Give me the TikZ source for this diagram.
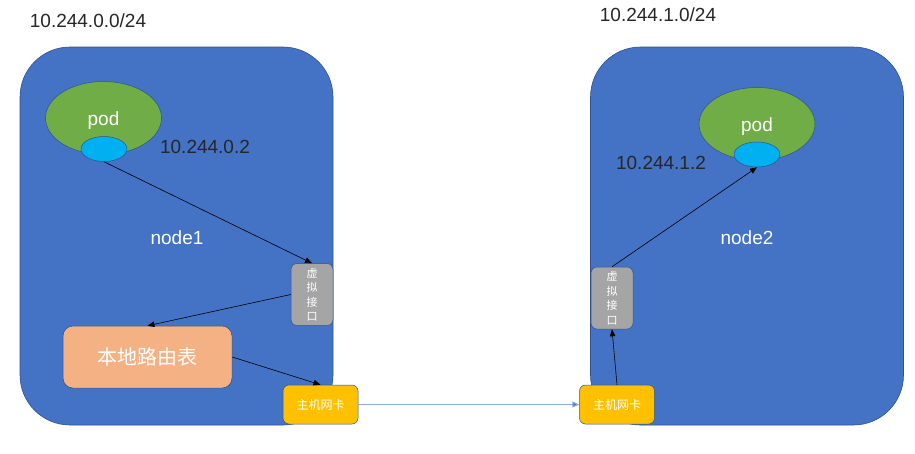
\documentclass[tikz,border=0pt]{standalone}
\usepackage{fontspec}
\setmainfont{Liberation Sans}
\newfontfamily\cjk{Noto Sans CJK SC}
\usetikzlibrary{shapes.geometric,arrows.meta}
\definecolor{hostblue}{HTML}{4472C4}
\definecolor{hostedge}{HTML}{2F528F}
\definecolor{podgreen}{HTML}{70AD47}
\definecolor{ifcyan}{HTML}{00B0F0}
\definecolor{vgray}{HTML}{A5A5A5}
\definecolor{rtorange}{HTML}{F4B183}
\definecolor{nicgold}{HTML}{FFC000}
\definecolor{linkblue}{HTML}{8FAADC}
\tikzset{
  hostbox/.style={draw=hostedge, fill=hostblue, line width=0.6pt, rounded corners=50pt, minimum width=313pt, minimum height=378pt, inner sep=0pt},
  podshape/.style={ellipse, draw=hostedge, fill=podgreen, line width=0.5pt, minimum width=116pt, minimum height=73pt, inner sep=0pt},
  ifshape/.style={ellipse, draw=hostedge, fill=ifcyan, line width=0.5pt, minimum width=46pt, minimum height=25pt, inner sep=0pt},
  vifbox/.style={draw=hostedge, fill=vgray, line width=0.5pt, rounded corners=6pt, minimum width=42pt, minimum height=62pt, inner sep=0pt, align=center, text=white, font=\cjk\fontsize{11}{14.5}\selectfont},
  rtbox/.style={draw=hostedge, fill=rtorange, line width=0.5pt, rounded corners=10pt, minimum width=169pt, minimum height=62pt, inner sep=0pt, text=white, font=\cjk\fontsize{20}{22}\selectfont},
  nicbox/.style={draw=hostedge, fill=nicgold, line width=0.5pt, rounded corners=6pt, minimum width=75pt, minimum height=39pt, inner sep=0pt, text=white, font=\cjk\fontsize{12}{14}\selectfont},
  whitelabel/.style={text=white, font=\fontsize{19}{22}\selectfont, inner sep=0pt},
  blacklabel/.style={text=black!85, font=\fontsize{19}{22}\selectfont, inner sep=0pt},
  arr/.style={draw=black, line width=0.6pt, -{Triangle[length=7pt,width=5.5pt]}},
  link/.style={draw=linkblue, line width=1pt, -{Triangle[length=7pt,width=6pt,fill=hostblue]}}
}
\begin{document}
\begin{tikzpicture}[x=1pt,y=-1pt]
\useasboundingbox (0,0) rectangle (915,453);
% host boxes
\node[hostbox] (host1) at (176.5,236) {};
\node[hostbox] (host2) at (747,236) {};
% subnet labels
\node[blacklabel] (net1) at (88,21) {10.244.0.0/24};
\node[blacklabel] (net2) at (658,15) {10.244.1.0/24};
% pods
\node[podshape] (pod1) at (103.5,118) {};
\node[whitelabel] (pod1t) at (103.5,121) {pod};
\node[ifshape] (eth1) at (104,149) {};
\node[podshape] (pod2) at (757,124) {};
\node[whitelabel] (pod2t) at (757,127) {pod};
\node[ifshape] (eth2) at (757,154.5) {};
% ip labels
\node[blacklabel] (ip1) at (205,147) {10.244.0.2};
\node[blacklabel] (ip2) at (661,163) {10.244.1.2};
% node names
\node[whitelabel] (n1) at (177,238) {node1};
\node[whitelabel] (n2) at (747,238) {node2};
% virtual interfaces
\node[vifbox] (vif1) at (312,294.5) {虚\\拟\\接\\口};
\node[vifbox] (vif2) at (612,298) {虚\\拟\\接\\口};
% routing table
\node[rtbox] (rt) at (147.5,357) {本地路由表};
% NICs
\node[nicbox] (nic1) at (320.5,404.5) {主机网卡};
\node[nicbox] (nic2) at (617,404.5) {主机网卡};
% connectors
\draw[arr] (eth1.south) -- (vif1.north);
\draw[arr] (vif1.west) -- (rt.north);
\draw[arr] (rt.east) -- (nic1.north);
\draw[link] (nic1.east) -- (nic2.west);
\draw[arr] (nic2.north) -- (vif2.south);
\draw[arr] (vif2.north) -- (eth2.south);
\end{tikzpicture}
\end{document}
